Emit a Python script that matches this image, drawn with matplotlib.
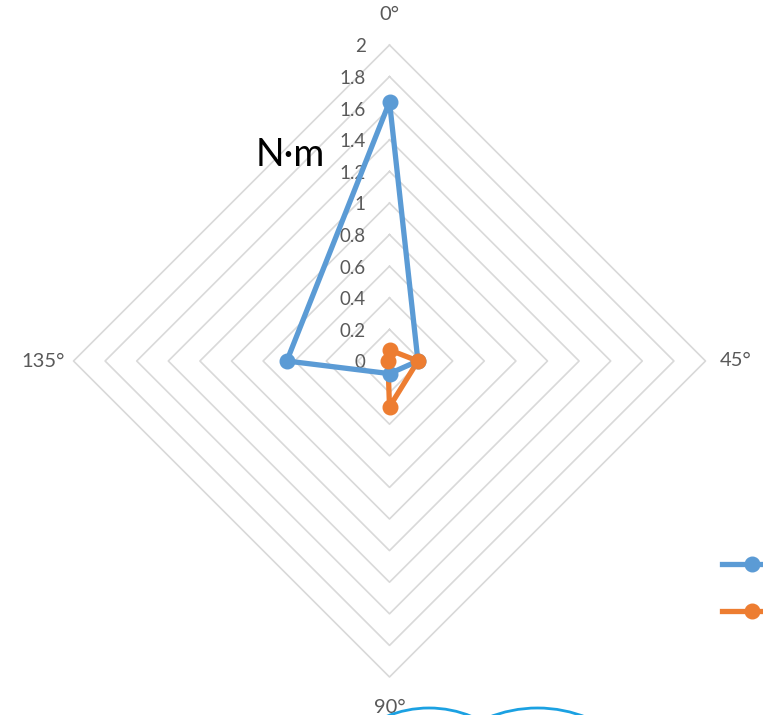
import numpy as np
import matplotlib
matplotlib.use("Agg")
import matplotlib.pyplot as plt
from matplotlib.lines import Line2D
from matplotlib.patches import Arc

plt.rcParams['font.family'] = ['Lato', 'DejaVu Sans']

# Radar categories (clockwise from the top)
categories = ["0°", "45°", "90°", "135°"]
angles_deg = [0, 90, 180, 270]

# Series values (N·m)
series_blue = [1.64, 0.18, 0.08, 0.65]
series_orange = [0.07, 0.18, 0.29, 0.01]

# Radial axis ticks
ticks = [0, 0.2, 0.4, 0.6, 0.8, 1.0, 1.2, 1.4, 1.6, 1.8, 2.0]

W, H = 763, 715
CX, CY = 389.5, 361.0      # chart centre in pixels
SCALE = 158.0              # pixels per unit

fig = plt.figure(figsize=(W / 100, H / 100), dpi=100)
ax = fig.add_axes([0, 0, 1, 1])
ax.set_xlim(-CX / SCALE, (W - CX) / SCALE)
ax.set_ylim(-(H - CY) / SCALE, CY / SCALE)
ax.set_aspect('equal')
ax.axis('off')

theta = np.deg2rad(angles_deg)
dx, dy = np.sin(theta), np.cos(theta)


def to_xy(values):
    v = np.asarray(values, dtype=float)
    x = v * dx
    y = v * dy
    return np.append(x, x[0]), np.append(y, y[0])


grid_color = "#D9D9D9"
for t in ticks[1:]:
    gx, gy = to_xy([t] * len(categories))
    ax.plot(gx, gy, color=grid_color, lw=1.2, zorder=1)

label_color = "#595959"
for t in ticks:
    ax.text(-0.15, t - 0.012, f"{t:g}", ha='right', va='center',
            fontsize=13.5, color=label_color, zorder=3)

r_lab = 2.19
for cat, a_x, a_y in zip(categories, dx, dy):
    ax.text(r_lab * a_x, r_lab * a_y, cat, ha='center', va='center',
            fontsize=14.5, color=label_color)

blue = "#5B9BD5"
orange = "#ED7D31"
handles = []
for vals, col in [(series_blue, blue), (series_orange, orange)]:
    sx, sy = to_xy(vals)
    ax.plot(sx, sy, color=col, lw=3.8, zorder=4, solid_joinstyle='round')
    ax.plot(sx[:-1], sy[:-1], 'o', color=col, ms=10.5, zorder=5)
    handles.append(Line2D([], [], color=col, lw=3.8, marker='o', ms=10.5))

# unit label
ax.text((256 - CX) / SCALE, (CY - 166) / SCALE, "N·m", ha='left',
        va='baseline', fontsize=27, color='black')

# legend keys sit at the right edge of the figure
leg = fig.legend(handles, ["", ""], loc='upper left',
                 bbox_to_anchor=(722 / W, 1 - 557 / H), frameon=False,
                 borderpad=0, borderaxespad=0, handlelength=3.4,
                 handletextpad=0.6, labelspacing=1.8, fontsize=12.5)

# decorative outline shapes at the bottom edge
arc_col = "#1BA1E2"
for (px, py, r) in [(429, 820, 112), (537.5, 840, 132)]:
    ax.add_patch(Arc(((px - CX) / SCALE, (CY - py) / SCALE),
                     2 * r / SCALE, 2 * r / SCALE, theta1=0, theta2=180,
                     color=arc_col, lw=2.0, zorder=6))

fig.savefig("out.png", dpi=100)
